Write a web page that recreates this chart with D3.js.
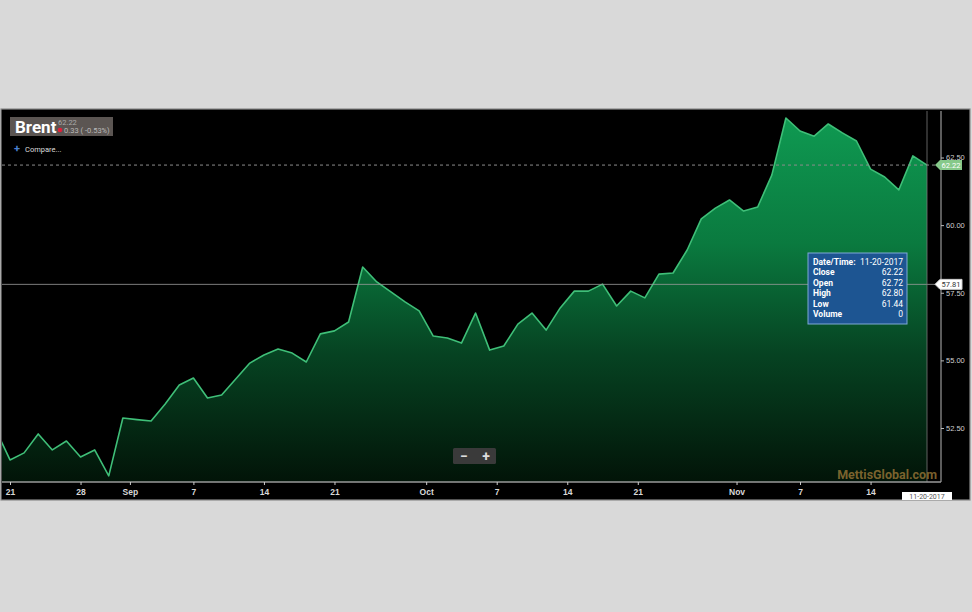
<!DOCTYPE html>
<html><head><meta charset="utf-8">
<script src="https://cdnjs.cloudflare.com/ajax/libs/d3/7.8.5/d3.min.js"></script>
<style>
html,body{margin:0;padding:0;background:#d9d9d9;}
svg{display:block;font-family:Roboto,"Liberation Sans",Arial,sans-serif;}
</style></head>
<body>
<svg id="chart" width="972" height="612"></svg>
<script>
// ---- data ----
const dates = ["2017-08-18","2017-08-21","2017-08-22","2017-08-23","2017-08-24","2017-08-25","2017-08-28","2017-08-29","2017-08-30","2017-08-31",
"2017-09-01","2017-09-04","2017-09-05","2017-09-06","2017-09-07","2017-09-08","2017-09-11","2017-09-12","2017-09-13","2017-09-14","2017-09-15",
"2017-09-18","2017-09-19","2017-09-20","2017-09-21","2017-09-22","2017-09-25","2017-09-26","2017-09-27","2017-09-28","2017-09-29",
"2017-10-02","2017-10-03","2017-10-04","2017-10-05","2017-10-06","2017-10-09","2017-10-10","2017-10-11","2017-10-12","2017-10-13",
"2017-10-16","2017-10-17","2017-10-18","2017-10-19","2017-10-20","2017-10-23","2017-10-24","2017-10-25","2017-10-26","2017-10-27",
"2017-10-30","2017-10-31","2017-11-01","2017-11-02","2017-11-03","2017-11-06","2017-11-07","2017-11-08","2017-11-09","2017-11-10",
"2017-11-13","2017-11-14","2017-11-15","2017-11-16","2017-11-17","2017-11-20"];
const closes = [52.43,51.32,51.58,52.28,51.69,52.02,51.43,51.69,50.73,52.87,
52.81,52.76,53.39,54.09,54.35,53.61,53.72,54.31,54.90,55.20,55.42,
55.27,54.94,55.98,56.09,56.42,58.45,57.90,57.53,57.16,56.83,
55.90,55.83,55.64,56.75,55.38,55.53,56.34,56.75,56.12,56.94,
57.56,57.56,57.82,57.01,57.56,57.31,58.19,58.23,59.08,60.23,
60.63,60.93,60.52,60.67,61.85,63.96,63.48,63.29,63.74,63.41,
63.11,62.07,61.78,61.30,62.56,62.22];
const firstVisible = "2017-08-21";
const yTicks = [52.5,55,57.5,60,62.5];
const xTickLabels = ["21","28","Sep","7","14","21","Oct","7","14","21","Nov","7","14"];
const xTickDates = ["2017-08-21","2017-08-28","2017-09-01","2017-09-07","2017-09-14","2017-09-21","2017-10-01","2017-10-07","2017-10-14","2017-10-21","2017-11-01","2017-11-07","2017-11-14"];
const monthTicks = ["Sep","Oct","Nov"];
const symbol = "Brent";
const lastPrice = 62.22;
const change = "0.33 ( -0.53%)";
const crossValue = 57.81;
const tipLabels = ["Date/Time:","Close","Open","High","Low","Volume"];
const tipValues = ["11-20-2017","62.22","62.72","62.80","61.44","0"];
const crossDate = "11-20-2017";

// ---- layout ----
const svg = d3.select("#chart");
const frame = {x:2, y:110, w:968, h:390};
const plot = {l:2, r:941, t:111, b:482};
const off = dates.indexOf(firstVisible);
const data = dates.map((d,i)=>({i:i-off, d:d, v:closes[i]}));
const lastIdx = data[data.length-1].i;

const x = d3.scaleLinear().domain([0,lastIdx]).range([10,927]);
const y = d3.scaleLinear().domain([52.5,62.5]).range([428,157.5]);

// frame
svg.append("rect").attr("x",frame.x-1).attr("y",frame.y-1).attr("width",frame.w+1).attr("height",frame.h+1)
  .attr("fill","#000").attr("stroke","#8a8a8a").attr("stroke-width",1.2);

const defs = svg.append("defs");
const grad = defs.append("linearGradient").attr("id","g").attr("gradientUnits","userSpaceOnUse")
  .attr("x1",0).attr("x2",0).attr("y1",115).attr("y2",plot.b);
[[0,"#0f9a52"],[0.35,"#0a7a3f"],[0.65,"#064322"],[1,"#021408"]].forEach(s=>grad.append("stop").attr("offset",s[0]).attr("stop-color",s[1]));
defs.append("clipPath").attr("id","clip").append("rect").attr("x",plot.l).attr("y",plot.t).attr("width",plot.r-plot.l).attr("height",plot.b-plot.t);

const g = svg.append("g").attr("clip-path","url(#clip)");
g.append("path").datum(data).attr("fill","url(#g)")
  .attr("d", d3.area().x(d=>x(d.i)).y0(plot.b).y1(d=>y(d.v)));
g.append("path").datum(data).attr("fill","none").attr("stroke","#3fbf78").attr("stroke-width",1.6).attr("stroke-linejoin","round")
  .attr("d", d3.line().x(d=>x(d.i)).y(d=>y(d.v)));

// last price dashed line
svg.append("line").attr("x1",plot.l).attr("x2",plot.r-5).attr("y1",y(lastPrice)).attr("y2",y(lastPrice))
  .attr("stroke","#8c8c8c").attr("stroke-width",1).attr("stroke-dasharray","3,3");
// crosshair
svg.append("line").attr("x1",plot.l).attr("x2",plot.r-5).attr("y1",y(crossValue)).attr("y2",y(crossValue))
  .attr("stroke","#9a9a9a").attr("stroke-width",0.8);
svg.append("line").attr("x1",x(lastIdx)).attr("x2",x(lastIdx)).attr("y1",plot.t).attr("y2",plot.b)
  .attr("stroke","#7a7a7a").attr("stroke-width",0.8);

// plot border lines
svg.append("line").attr("x1",plot.l).attr("x2",plot.r).attr("y1",plot.b).attr("y2",plot.b).attr("stroke","#9a9a9a").attr("stroke-width",1.5);
svg.append("line").attr("x1",plot.r).attr("x2",plot.r).attr("y1",plot.t).attr("y2",plot.b).attr("stroke","#9a9a9a").attr("stroke-width",1.2);

// y axis
const ya = svg.append("g").attr("transform",`translate(${plot.r},0)`)
  .call(d3.axisRight(y).tickValues(yTicks).tickFormat(d3.format(".2f")).tickSize(3).tickPadding(2));
ya.select(".domain").remove();
ya.selectAll(".tick line").attr("stroke","#bbb");
ya.selectAll(".tick text").attr("fill","#cfcfcf").attr("font-size",7.5);

// x axis: tick positions derived from trading-day index
function tickPos(dateStr,label){
  let k = data.findIndex(d=>d.d>=dateStr);
  const exact = data[k].d===dateStr && monthTicks.indexOf(label)<0;
  return exact ? data[k].i : data[k].i-0.5;
}
const xTickVals = xTickDates.map((d,j)=>tickPos(d,xTickLabels[j]));
const xa = svg.append("g").attr("transform",`translate(0,${plot.b})`)
  .call(d3.axisBottom(x).tickValues(xTickVals).tickFormat((d,j)=>xTickLabels[j]).tickSize(3).tickPadding(4));
xa.select(".domain").remove();
xa.selectAll(".tick line").attr("stroke","#ccc");
xa.selectAll(".tick text").attr("fill","#d8d8d8").attr("font-size",8.5).attr("font-weight","bold");

// right price labels
function priceTag(val,fill,txt){
  const yy=y(val);
  const gg=svg.append("g");
  gg.append("path").attr("d",`M${plot.r-6},${yy} L${plot.r-1},${yy-5} L${plot.r+21},${yy-5} L${plot.r+21},${yy+5} L${plot.r-1},${yy+5} Z`)
    .attr("fill",fill).attr("stroke",fill==="#fff"?"#ccc":"none");
  gg.append("text").attr("x",plot.r+10).attr("y",yy+2.8).attr("text-anchor","middle").attr("font-size",7.5).attr("fill",txt).text(d3.format(".2f")(val));
}
priceTag(lastPrice,"#86c98a","#fff");
priceTag(crossValue,"#fff","#333");

// bottom date box
svg.append("rect").attr("x",x(lastIdx)-25).attr("y",492).attr("width",50).attr("height",8).attr("fill","#fff");
svg.append("text").attr("x",x(lastIdx)).attr("y",498.5).attr("text-anchor","middle").attr("font-size",7).attr("fill","#555").text(crossDate);

// legend
svg.append("rect").attr("x",10).attr("y",117).attr("width",103).attr("height",19).attr("fill","#5b5552");
svg.append("text").attr("x",15).attr("y",133).attr("font-size",17).attr("font-weight","bold").attr("fill","#fff").text(symbol);
svg.append("text").attr("x",58).attr("y",124.5).attr("font-size",7.5).attr("fill","#aaa").text(d3.format(".2f")(lastPrice));
svg.append("circle").attr("cx",60).attr("cy",130).attr("r",2.3).attr("fill","#e0203a");
svg.append("text").attr("x",64).attr("y",133).attr("font-size",7.5).attr("fill","#bbb").text(change);
svg.append("text").attr("x",14).attr("y",152).attr("font-size",11).attr("font-weight","bold").attr("fill","#4a7fd0").text("+");
svg.append("text").attr("x",25).attr("y",151.5).attr("font-size",7.5).attr("fill","#ddd").text("Compare...");

// tooltip
svg.append("rect").attr("x",808).attr("y",253).attr("width",99).attr("height",71).attr("fill","#1d5592").attr("stroke","#7fa9d6").attr("stroke-width",1);
tipLabels.forEach((t,j)=>{
  const yy = 264.5 + j*10.5;
  svg.append("text").attr("x",813).attr("y",yy).attr("font-size",8.5).attr("font-weight","bold").attr("fill","#fff").text(t);
  svg.append("text").attr("x",903).attr("y",yy).attr("text-anchor","end").attr("font-size",8.5).attr("fill","#fff").text(tipValues[j]);
});

// zoom buttons
svg.append("rect").attr("x",453).attr("y",448).attr("width",43).attr("height",16).attr("rx",1.5).attr("fill","#3a3a3a");
svg.append("text").attr("x",464).attr("y",461).attr("text-anchor","middle").attr("font-size",14).attr("font-weight","bold").attr("fill","#ddd").text("−");
svg.append("text").attr("x",486).attr("y",461).attr("text-anchor","middle").attr("font-size",14).attr("font-weight","bold").attr("fill","#ddd").text("+");

// watermark
svg.append("text").attr("x",937).attr("y",479).attr("text-anchor","end").attr("font-size",12.5).attr("font-weight","bold").attr("fill","#8a6d33").attr("fill-opacity",0.9).text("MettisGlobal.com");
</script>
</body></html>
